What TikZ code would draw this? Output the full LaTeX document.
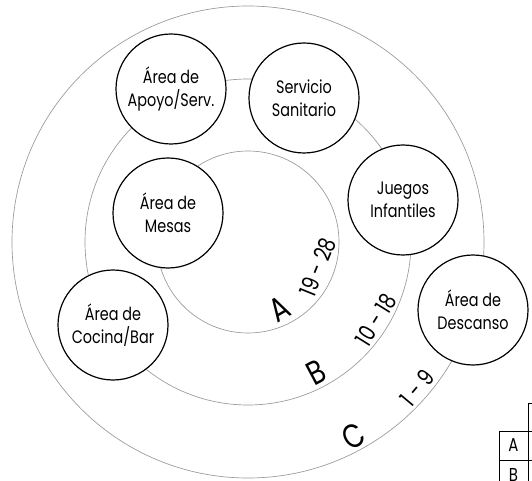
\documentclass[tikz,border=0pt]{standalone}
\usepackage{fontspec}
\setmainfont[FakeStretch=0.8]{Poppins}
\tikzset{every picture/.style={line width=0.75pt}}
\tikzset{
  zona/.style={circle,draw=black,line width=0.9pt,fill=white,minimum size=82.5pt,inner sep=0pt,align=center,font=\fontsize{13.5}{17.5}\selectfont},
  anillo/.style={draw=gray!80,line width=0.5pt},
  letra/.style={font=\fontsize{25}{25}\selectfont,inner sep=0pt},
  rango/.style={font=\fontsize{17.5}{17.5}\selectfont,inner sep=0pt},
  celda/.style={font=\fontsize{14}{14}\selectfont,inner sep=0pt}
}
\begin{document}
\begin{tikzpicture}[x=0.75pt,y=0.75pt,yscale=-1,xscale=1]
\useasboundingbox (0,0) rectangle (532,481);
% anillos concentricos
\coordinate (centro) at (248,242);
\draw[anillo] (centro) circle (236);
\draw[anillo] (centro) circle (163);
\draw[anillo] (centro) circle (91);
% zonas
\node[zona] (apoyo) at (171,89) {Área de\\Apoyo/Serv.};
\node[zona] (sanitario) at (304,98) {Servicio\\Sanitario};
\node[zona] (juegos) at (403,200) {Juegos\\Infantiles};
\node[zona] (descanso) at (473,310) {Área de\\Descanso};
\node[zona] (mesas) at (168,213) {Área de\\Mesas};
\node[zona] (cocina) at (113,325) {Área de\\Cocina/Bar};
% etiquetas de los anillos
\node[letra,rotate=30] (letraA) at (280,309) {A};
\node[rango,rotate=68] (rangoA) at (318,267) {19 - 28};
\node[letra,rotate=28] (letraB) at (316,372) {B};
\node[rango,rotate=58] (rangoB) at (376,320) {10 - 18};
\node[letra,rotate=30] (letraC) at (354,436) {C};
\node[rango,rotate=50] (rangoC) at (417,388) {1 - 9};
% tabla
\draw (528,403) -- (528,481);
\draw (528,403) -- (532,403);
\draw (499,431) -- (532,431);
\draw (499,460) -- (532,460);
\draw (499,431) -- (499,481);
\node[celda] (filaA) at (513.5,445.5) {A};
\node[celda] (filaB) at (513.5,475) {B};
\end{tikzpicture}
\end{document}
